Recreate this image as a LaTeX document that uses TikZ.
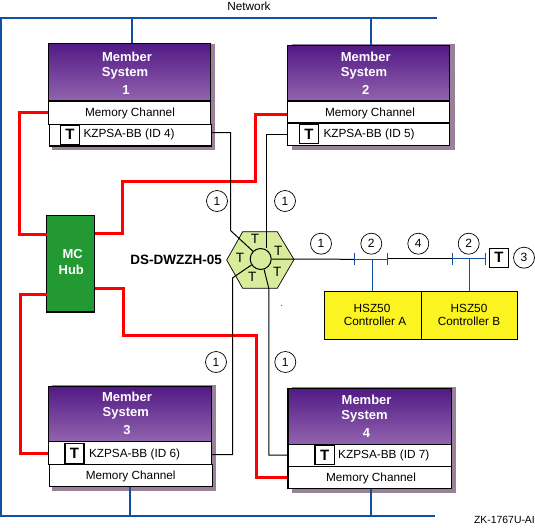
\documentclass[tikz,border=0pt]{standalone}
\usepackage{fontspec}
\setmainfont{Liberation Sans}
\usetikzlibrary{fit,positioning,calc}
\definecolor{netblue}{HTML}{11509F}
\definecolor{mcred}{HTML}{FF0000}
\definecolor{shade}{HTML}{998299}
\definecolor{ptop}{HTML}{521A85}
\definecolor{pbot}{HTML}{9264AE}
\definecolor{hubgreen}{HTML}{229933}
\definecolor{hexgreen}{HTML}{D8EC9C}
\definecolor{ctlyellow}{HTML}{FBF420}
\tikzset{
  x=1pt,y=-1pt,
  net/.style={draw=netblue,line width=2pt},
  netthin/.style={draw=netblue,line width=1.1pt},
  mc/.style={draw=mcred,line width=3pt},
  scsi/.style={draw=black,line width=1pt},
  shadowbox/.style={fill=shade,draw=none,inner sep=0pt},
  purplebox/.style={draw=black,line width=1.1pt,top color=ptop,bottom color=pbot,inner sep=0pt},
  whitebox/.style={draw=black,line width=1.1pt,fill=white,inner sep=0pt},
  tbox/.style={draw=black,line width=1.1pt,fill=white,inner sep=0pt,font=\fontsize{15}{15}\selectfont\bfseries},
  numc/.style={circle,draw=black,line width=0.7pt,fill=white,minimum size=21pt,inner sep=0pt,font=\fontsize{12}{12}\selectfont},
  lab/.style={inner sep=0pt,font=\fontsize{11.8}{12}\selectfont},
  wlab/.style={inner sep=0pt,text=white,font=\fontsize{13}{13}\selectfont\bfseries},
  hexlab/.style={inner sep=0pt,font=\fontsize{13.5}{14}\selectfont},
  ctl/.style={draw=black,line width=1.1pt,fill=ctlyellow,inner sep=0pt},
}
\begin{document}
\begin{tikzpicture}
\useasboundingbox (0,0) rectangle (535,527);
% network
\coordinate (nr) at (437,18);
\coordinate (nc) at (1,18);
\coordinate (br) at (435,516);
\coordinate (bc) at (1,516);
\draw[net] (nr) -- (nc) -- (bc) -- (br);
\node[lab] (nettext) at (249,6) {Network};
% shadows
\node[shadowbox,fit={(52,44)(215,150)}] (s1) {};
\node[shadowbox,fit={(292,44)(455,150)}] (s2) {};
\node[shadowbox,fit={(52,385)(216,491)}] (s3) {};
\node[shadowbox,fit={(291.5,387)(455.5,493)}] (s4) {};
% member 1
\node[purplebox,fit={(48.5,43.5)(210.5,101)}] (m1) {};
\node[whitebox,fit={(48.5,101)(210.5,124.5)}] (c1) {};
\node[whitebox,fit={(49.5,124.5)(211.5,146)}] (k1) {};
\node[tbox,fit={(60.5,125)(79.5,144.5)}] (t1) {};
\node[tbox,draw=none,fill=none] at (t1.center) {T};
\node[wlab] at (127,57.3) {Member};
\node[wlab] at (125,73.3) {System};
\node[wlab] at (126,89.7) {1};
\node[lab] at (130,113) {Memory Channel};
\node[lab,anchor=west] at (83.3,134.5) {KZPSA-BB (ID 4)};
% member 2
\node[purplebox,fit={(287.5,45.5)(449.5,101)}] (m2) {};
\node[whitebox,fit={(287.5,101)(449.5,123)}] (c2) {};
\node[whitebox,fit={(287.5,123)(449.5,145.5)}] (k2) {};
\node[tbox,fit={(299.5,124.5)(318.5,143.5)}] (t2) {};
\node[tbox,draw=none,fill=none] at (t2.center) {T};
\node[wlab] at (365.7,57.3) {Member};
\node[wlab] at (364,73.3) {System};
\node[wlab] at (365.7,89.7) {2};
\node[lab] at (370,113) {Memory Channel};
\node[lab,anchor=west] at (323.3,134.5) {KZPSA-BB (ID 5)};
% member 3
\node[purplebox,fit={(48.7,386.5)(211.6,441.5)}] (m3) {};
\node[whitebox,fit={(48.7,441.5)(211.6,464.5)}] (k3) {};
\node[whitebox,fit={(49.7,464.5)(212.6,486.5)}] (c3) {};
\node[tbox,fit={(65,443.7)(84,463.7)}] (t3) {};
\node[tbox,draw=none,fill=none] at (t3.center) {T};
\node[wlab] at (127,397.3) {Member};
\node[wlab] at (125.8,413.7) {System};
\node[wlab] at (127,429.7) {3};
\node[lab,anchor=west] at (88.8,454) {KZPSA-BB (ID 6)};
\node[lab] at (130.7,476) {Memory Channel};
% member 4
\node[purplebox,fit={(288,388.7)(451.6,444.3)}] (m4) {};
\node[whitebox,fit={(288,444.3)(451.6,466.3)}] (k4) {};
\node[whitebox,fit={(288,466.3)(451.6,488.3)}] (c4) {};
\node[tbox,fit={(315,445.3)(334.4,464.7)}] (t4) {};
\node[tbox,draw=none,fill=none] at (t4.center) {T};
\node[wlab] at (366.6,400.3) {Member};
\node[wlab] at (364.5,416.7) {System};
\node[wlab] at (366.6,432.7) {4};
\node[lab,anchor=west] at (338,455.7) {KZPSA-BB (ID 7)};
\node[lab] at (371,478) {Memory Channel};
% blue stubs
\coordinate (n1) at (132,18);
\coordinate (n2) at (371,18);
\coordinate (n3) at (130.3,516);
\coordinate (n4) at (370.7,516);
\draw[net] (n1) -- (n1 |- m1.north);
\draw[net] (n2) -- (n2 |- m2.north);
\draw[net] (n3) -- (n3 |- c3.south);
\draw[net] (n4) -- (n4 |- c4.south);
% hub
\node[draw=black,line width=1.1pt,fill=hubgreen,inner sep=0pt,fit={(46.5,215.5)(94.5,312)}] (hub) {};
\node[wlab] at (72.7,254) {MC};
\node[wlab] at (71.3,270) {Hub};
\coordinate (hw1) at (46.5,234);
\coordinate (hw2) at (46.5,294);
\coordinate (he1) at (94.5,233);
\coordinate (he2) at (94.5,288);
\coordinate (a1) at (19.5,112.7);
\coordinate (a3) at (20.5,453);
\coordinate (b2a) at (122,181);
\coordinate (b2b) at (255,114);
\coordinate (b4a) at (123,335);
\coordinate (b4b) at (256,477);
\draw[mc] (c1.west |- a1) -- (a1) -- (a1 |- hw1) -- (hw1);
\draw[mc] (hw2) -- (hw2 -| a3) -- (a3) -- (a3 -| k3.west);
\draw[mc] (he1) -- (he1 -| b2a) -- (b2a) -- (b2a -| b2b) -- (b2b) -- (b2b -| c2.west);
\draw[mc] (he2) -- (he2 -| b4a) -- (b4a) -- (b4a -| b4b) -- (b4b) -- (b4b -| c4.west);
% hexagon
\path[fill=hexgreen,draw=black,line width=0.7pt] (226.7,260) -- (242.7,231.7) -- (277.3,231.7) -- (294,259.5) -- (277.3,288.3) -- (242.7,288.3) -- cycle;
\node[circle,draw=black,line width=1pt,fill=hexgreen,minimum size=21pt,inner sep=0pt] (hc) at (260.7,259) {};
\node[hexlab] at (255,239) {T};
\node[hexlab] at (240,258.3) {T};
\node[hexlab] at (278.3,251) {T};
\node[hexlab] at (277.3,272.3) {T};
\node[hexlab] at (252.3,277.3) {T};
\node[inner sep=0pt,font=\fontsize{13.5}{14}\selectfont\bfseries,anchor=east] (dsname) at (222,260) {DS-DWZZH-05};
% scsi connectors
\coordinate (j1) at (230.5,230.5);
\coordinate (j2) at (266.5,134.5);
\coordinate (j3) at (232.5,278);
\coordinate (j4) at (268.8,288.3);
\coordinate (j3b) at (236,275.5);
\coordinate (e1) at (230.5,132.5);
\coordinate (e3) at (232.5,454.5);
\coordinate (e4) at (268.8,455);
\draw[scsi] (k1.east |- e1) -- (e1) -- (j1) -- (hc.135);
\draw[scsi] (k2.west |- j2) -- (j2) -- (j2 |- hc.north);
\draw[scsi] (k3.east |- e3) -- (e3) -- (j3) -- (j3b) -- (hc.213);
\draw[scsi] (k4.west |- e4) -- (e4) -- (j4) -- (hc.-72);
\coordinate (u1) at (354.5,259.3);
\coordinate (u2) at (387.3,259.3);
\coordinate (u3) at (452.3,258.5);
\coordinate (u4) at (485.7,258.5);
\draw[scsi] (hc.east) -- (u1);
\draw[scsi] (u2 |- u3) -- (u3);
% controllers
\node[ctl,fit={(324.3,291.3)(421.3,339.3)}] (ca) {};
\node[ctl,fit={(421.3,291.3)(517.7,339.3)}] (cb) {};
\node[lab] at (372,308.3) {HSZ50};
\node[lab] at (375,321) {Controller A};
\node[lab] at (469,308.3) {HSZ50};
\node[lab] at (469,321) {Controller B};
\coordinate (p1) at (372.3,259.3);
\coordinate (p2) at (469.3,258.5);
\draw[netthin] (u1) -- (u2);
\draw[netthin] (u3) -- (u4);
\draw[netthin] (p1) -- (p1 |- ca.north);
\draw[netthin] (p2) -- (p2 |- cb.north);
\draw[netthin] ($(u1)+(0,-6)$) -- ($(u1)+(0,6)$);
\draw[netthin] ($(u2)+(0,-6)$) -- ($(u2)+(0,6)$);
\draw[netthin] ($(u3)+(0,-6)$) -- ($(u3)+(0,6)$);
\draw[netthin] ($(u4)+(0,-6)$) -- ($(u4)+(0,6)$);
\node[tbox,fit={(489.3,248.3)(508.7,267.3)}] (tend) {};
\node[tbox,draw=none,fill=none] at (tend.center) {T};
% numbered circles
\node[numc] (q1) at (217,201) {1};
\node[numc] (q2) at (285,201) {1};
\node[numc] (q3) at (216,362) {1};
\node[numc] (q4) at (285.3,362) {1};
\node[numc] (q5) at (321,243.7) {1};
\node[numc] (q6) at (371.3,243.7) {2};
\node[numc] (q7) at (418.3,243.7) {4};
\node[numc] (q8) at (468.7,243.7) {2};
\node[numc] (q9) at (524,257.7) {3};
\fill[black] (281.7,305.3) circle (0.5);
\node[inner sep=0pt,font=\fontsize{10.4}{11}\selectfont,anchor=east] (zk) at (535,520) {ZK-1767U-AI};
\end{tikzpicture}
\end{document}
